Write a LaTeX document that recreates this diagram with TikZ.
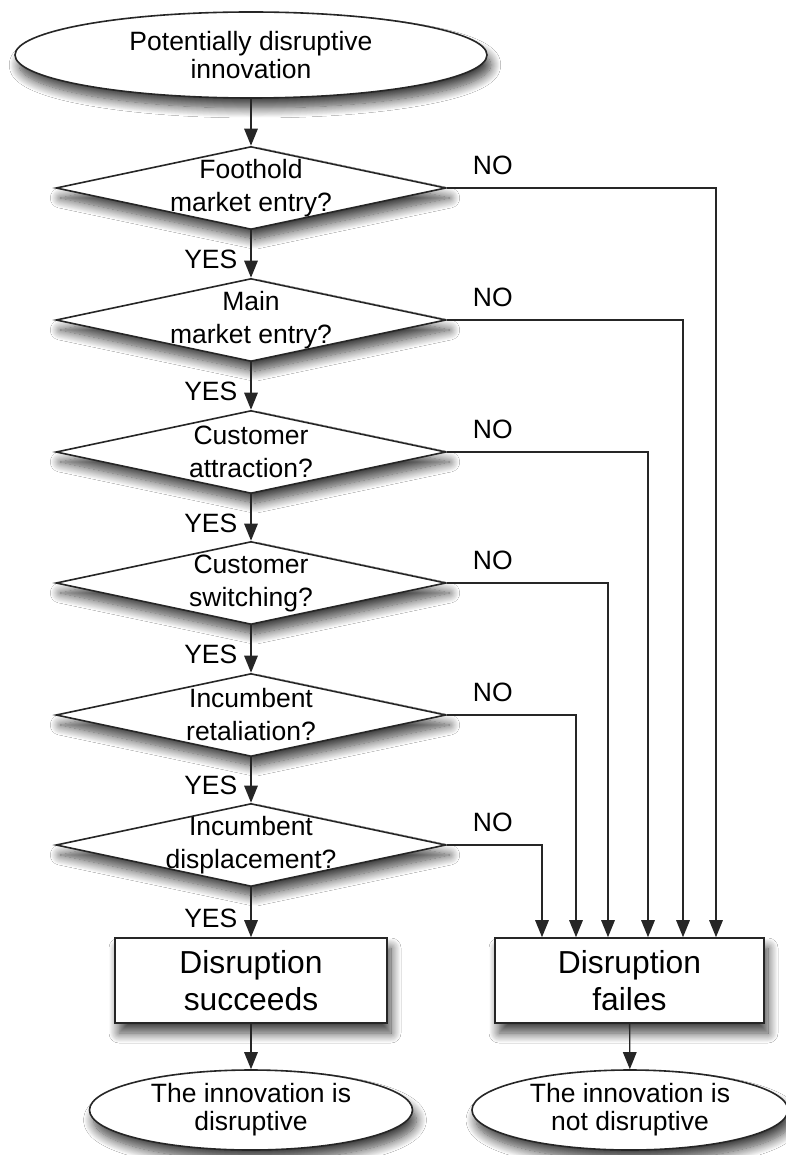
\documentclass[tikz,border=0pt]{standalone}
\usepackage{fontspec}
\setmainfont{Liberation Sans}
\usetikzlibrary{shapes.geometric,arrows.meta,shadows.blur}
\begin{document}
\begin{tikzpicture}[x=1pt,y=-1pt,
  softshadow/.style={blur shadow={shadow xshift=4pt,shadow yshift=-10pt,
      shadow blur radius=10pt,shadow blur steps=14,shadow opacity=75}},
  outline/.style={draw=black!85,line width=1.6pt,fill=white,softshadow},
  terminal/.style={outline,ellipse,inner sep=0pt,align=center,
      font=\fontsize{26.5}{28}\selectfont},
  decision/.style={outline,diamond,inner sep=0pt,
      minimum width=390pt,minimum height=83pt},
  dtext/.style={align=center,inner sep=0pt,
      font=\fontsize{26.5}{33}\selectfont},
  process/.style={outline,rectangle,inner sep=0pt,align=center,
      minimum height=85pt,font=\fontsize{31.8}{37}\selectfont},
  arr/.style={draw=black!85,line width=1.4pt,-{Triangle[length=17pt,width=13.5pt]}},
  answer/.style={inner sep=0pt,font=\fontsize{26.5}{28}\selectfont},
]
\useasboundingbox[fill=white] (0,0) rectangle (786,1155);

% start
\node[terminal,minimum width=472pt,minimum height=86pt] (start) at (251,55)
  {Potentially disruptive\\innovation};

% decision chain
\node[decision,label={[dtext]center:{Foothold\\market entry?}}] (d1) at (251,188) {};
\node[decision,label={[dtext]center:{Main\\market entry?}}] (d2) at (251,320) {};
\node[decision,label={[dtext]center:{Customer\\attraction?}}] (d3) at (251,452) {};
\node[decision,label={[dtext]center:{Customer\\switching?}}] (d4) at (251,583) {};
\node[decision,label={[dtext]center:{Incumbent\\retaliation?}}] (d5) at (251,715) {};
\node[decision,label={[dtext]center:{Incumbent\\displacement?}}] (d6) at (251,845) {};

% outcomes
\node[process,minimum width=272pt] (ok) at (251,980.5) {Disruption\\succeeds};
\node[process,minimum width=269pt] (fail) at (629.5,980.5) {Disruption\\failes};

\node[terminal,minimum width=323pt,minimum height=80pt] (yes) at (251,1110)
  {The innovation is\\disruptive};
\node[terminal,minimum width=316pt,minimum height=80pt] (no) at (630,1110)
  {The innovation is\\not disruptive};

% main flow
\draw[arr] (start) -- (d1);
\draw[arr] (d1) -- node[answer,pos=0.62,anchor=east,xshift=-13pt]{YES} (d2);
\draw[arr] (d2) -- node[answer,pos=0.62,anchor=east,xshift=-13pt]{YES} (d3);
\draw[arr] (d3) -- node[answer,pos=0.62,anchor=east,xshift=-13pt]{YES} (d4);
\draw[arr] (d4) -- node[answer,pos=0.62,anchor=east,xshift=-13pt]{YES} (d5);
\draw[arr] (d5) -- node[answer,pos=0.62,anchor=east,xshift=-13pt]{YES} (d6);
\draw[arr] (d6) -- node[answer,pos=0.62,anchor=east,xshift=-13pt]{YES} (ok);
\draw[arr] (ok) -- (yes);
\draw[arr] (fail) -- (no);

% NO branches
\draw[arr] (d1.east) -| ([xshift=86.5pt]fail.north);
\draw[arr] (d2.east) -| ([xshift=53.5pt]fail.north);
\draw[arr] (d3.east) -| ([xshift=18.5pt]fail.north);
\draw[arr] (d4.east) -| ([xshift=-21.5pt]fail.north);
\draw[arr] (d5.east) -| ([xshift=-53.5pt]fail.north);
\draw[arr] (d6.east) -| ([xshift=-87.5pt]fail.north);

\foreach \d in {d1,d2,d3,d4,d5,d6}
  \node[answer] (no\d) at ([xshift=46pt,yshift=23pt]\d.east) {NO};
\end{tikzpicture}
\end{document}
